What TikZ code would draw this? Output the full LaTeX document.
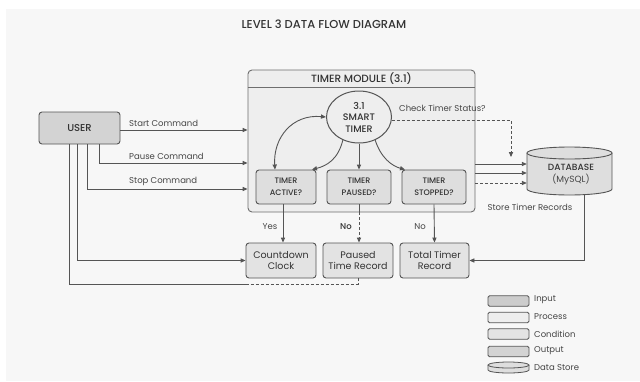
\documentclass[tikz,border=0pt]{standalone}
\usepackage{fontspec}
\setmainfont{Poppins}
\newfontfamily\medfont{Poppins Medium}
\usetikzlibrary{arrows.meta,calc,shapes.geometric}
\definecolor{bgc}{HTML}{F7F7F7}
\definecolor{lnc}{HTML}{555555}
\definecolor{bxc}{HTML}{DEDEDE}
\definecolor{outc}{HTML}{E3E3E3}
\definecolor{modc}{HTML}{EEEEEE}
\definecolor{txc}{HTML}{333333}
\definecolor{lbc}{HTML}{454545}
\begin{document}
\begin{tikzpicture}[x=1pt,y=-1pt,
  every node/.style={text=txc, inner sep=0pt, font=\fontsize{9}{11}\selectfont},
  box/.style={draw=lnc, line width=0.9pt, fill=bxc, rounded corners=3pt, align=center},
  cond/.style={box, minimum width=60pt, minimum height=34pt, font=\medfont\fontsize{8}{12}\selectfont},
  outbox/.style={box, fill=outc, minimum width=70pt, minimum height=35pt, font=\fontsize{9.5}{11.5}\selectfont},
  plain/.style={draw=lnc, line width=0.9pt},
  flow/.style={plain, -{Triangle[length=5pt,width=4.2pt]}},
  dsh/.style={dash pattern=on 3pt off 2pt},
  lbl/.style={text=lbc, font=\fontsize{8.5}{10}\selectfont},
  lgbox/.style={draw=lnc, line width=0.8pt, rounded corners=1.5pt, minimum width=41pt, minimum height=10.5pt},
  lgtxt/.style={lbl, anchor=west, font=\fontsize{8.5}{10}\selectfont}]
\useasboundingbox (0,0) rectangle (640,381);
\fill[white] (0,0) rectangle (640,381);
\fill[bgc] (6,9) rectangle (640,381);

% title
\node[font=\medfont\fontsize{11.5}{13}\selectfont] (title) at (324,24) {LEVEL 3 DATA FLOW DIAGRAM};

% module
\node[draw=lnc!85, line width=0.9pt, fill=modc, rounded corners=4pt, minimum width=227pt, minimum height=142pt] (mod) at (361.5,141) {};
\draw[plain, draw=lnc!85] ($(mod.north west)+(0,18)$) -- ($(mod.north east)+(0,18)$);
\node[font=\medfont\fontsize{10.5}{12}\selectfont] (modt) at (361.5,79) {TIMER MODULE (3.1)};

% user
\node[box, minimum width=81pt, minimum height=32pt, fill=bxc!95!black, font=\medfont\fontsize{10}{12}\selectfont] (user) at (79.5,128) {USER};

% smart timer
\node[draw=lnc, line width=1pt, fill=modc, ellipse, minimum width=65pt, minimum height=52pt, align=center, font=\medfont\fontsize{9.5}{11.5}\selectfont] (st) at (359,117) {3.1\\SMART\\TIMER};

% conditions
\node[cond] (act) at (286,187) {TIMER\\ACTIVE?};
\node[cond, minimum width=64pt] (pau) at (359,187) {TIMER\\PAUSED?};
\node[cond, minimum width=64pt] (sto) at (434,187) {TIMER\\STOPPED?};

% outputs
\node[outbox] (cd) at (281,260.5) {Countdown\\Clock};
\node[outbox] (ptr) at (358,260.5) {Paused\\Time Record};
\node[outbox, minimum width=69pt] (ttr) at (434.5,260.5) {Total Timer\\Record};

% database
\fill[bxc] (527,153) -- (527,189) arc[start angle=180,end angle=0,x radius=42.5,y radius=6] -- (612,153) arc[start angle=0,end angle=-180,x radius=42.5,y radius=6] -- cycle;
\draw[plain] (527,153) -- (527,189) arc[start angle=180,end angle=0,x radius=42.5,y radius=6] -- (612,153);
\draw[plain, fill=bxc] (569.5,153) ellipse[x radius=42.5, y radius=6];
\node[minimum width=85pt, minimum height=48pt] (db) at (569.5,171) {};
\node[align=center, font=\fontsize{9}{12}\selectfont] (dbt) at (571,174) {\medfont DATABASE\\\textcolor{lbc}{(MySQL)}};

% user commands
\draw[flow] (user.east |- 0,130) -- (mod.west |- 0,130);
\node[lbl, anchor=south west] (l1) at (129,127) {Start Command};
\draw[flow] (user.south -| 99,0) |- (mod.west |- 0,163);
\node[lbl, anchor=south west] (l2) at (129,160) {Pause Command};
\draw[flow] (user.south -| 87,0) |- (mod.west |- 0,189);
\node[lbl, anchor=south west] (l3) at (129,186) {Stop Command};
\draw[flow] (user.south -| 77,0) |- (cd.west);
\coordinate (jn) at (cd.west |- 0,284);
\draw[plain] (user.south -| 69,0) |- (jn);
\draw[plain, dsh] (jn) -| (ptr.south);

% smart timer links
\draw[plain, {Triangle[length=5pt,width=4.2pt]}-{Triangle[length=5pt,width=4.2pt]}] (st.west) .. controls (292,114) and (273,138) .. (act.north -| 275,0);
\draw[flow] (st.235) .. controls (338,160) and (326,166) .. (act.north -| 312,0);
\draw[flow] (st.south) -- (pau.north);
\draw[flow] (st.305) .. controls (381,158) and (392,166) .. (sto.north -| 405,0);

% conditions to outputs
\draw[flow] (act.south -| 283,0) -- (cd.north -| 283,0);
\node[lbl] (yes) at (270,227) {Yes};
\draw[plain] (pau.south) -- (pau.south |- mod.south);
\draw[flow, dsh] (pau.south |- mod.south) -- (ptr.north -| pau.south);
\node[lbl, font=\medfont\fontsize{8.5}{10}\selectfont, text=txc] (no1) at (346,227) {No};
\draw[flow] (sto.south) -- (ttr.north);
\node[lbl] (no2) at (420,227) {No};

% check status
\coordinate (chk) at (511,157);
\draw[flow, dsh] (st.-6) -| (chk);
\node[lbl, anchor=west] (chkl) at (399,108) {Check Timer Status?};

% module to database
\draw[flow] (mod.east |- 0,164) -- (db.west |- 0,164);
\draw[flow] (mod.east |- 0,173) -- (db.west |- 0,173);
\draw[flow, dsh] (mod.east |- 0,183) -- (db.west |- 0,183);
\node[lbl] (stl) at (530,207) {Store Timer Records};
\draw[flow] (db.south -| 584,0) |- (ttr.east);

% legend
\node[lgbox, fill=bxc!92!black] (lg1) at (508.5,301) {};
\node[lgbox, fill=modc] (lg2) at (508.5,317.5) {};
\node[lgbox, fill=outc] (lg3) at (508.5,334) {};
\node[lgbox, fill=bxc!95!black] (lg4) at (508.5,351.5) {};
\fill[bxc] (488,365) -- (488,370) arc[start angle=180,end angle=0,x radius=20.5,y radius=3] -- (529,365) arc[start angle=0,end angle=-180,x radius=20.5,y radius=3] -- cycle;
\draw[draw=lnc, line width=0.8pt] (488,365) -- (488,370) arc[start angle=180,end angle=0,x radius=20.5,y radius=3] -- (529,365);
\draw[draw=lnc, line width=0.8pt, fill=bxc] (508.5,365) ellipse[x radius=20.5, y radius=3];
\node[lgtxt] (lt1) at (534,300) {Input};
\node[lgtxt] (lt2) at (534,317) {Process};
\node[lgtxt] (lt3) at (534,334) {Condition};
\node[lgtxt] (lt4) at (534,351) {Output};
\node[lgtxt] (lt5) at (534,368) {Data Store};
\end{tikzpicture}
\end{document}
